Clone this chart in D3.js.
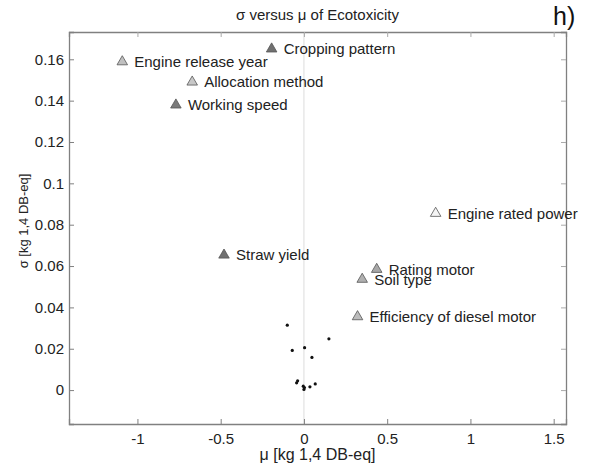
<!DOCTYPE html>
<html><head><meta charset="utf-8">
<script src="https://cdn.jsdelivr.net/npm/d3@7"></script>
<style>body{margin:0;background:#fff}svg{display:block}text{font-family:"Liberation Sans",Arial,sans-serif}</style>
</head><body><svg id="c" width="596" height="472"></svg>
<script>
const labels = ["Cropping pattern","Engine release year","Allocation method","Working speed","Straw yield","Engine rated power","Rating motor","Soil type","Efficiency of diesel motor"];
const labelMu = [-0.194,-1.091,-0.671,-0.769,-0.480,0.791,0.437,0.350,0.322];
const labelSigma = [0.165,0.1588,0.149,0.1379,0.0653,0.0855,0.0584,0.0536,0.0355];
const labelShade = ["#707070","#c0c0c0","#c8c8c8","#7a7a7a","#707070","#f4f4f4","#a8a8a8","#b0b0b0","#bcbcbc"];
const dotMu = [-0.100,-0.070,0.004,0.048,0.150,-0.044,-0.038,-0.004,0.000,0.003,0.036,0.068];
const dotSigma = [0.0314,0.0192,0.0205,0.0158,0.0248,0.0035,0.0045,0.0019,0.0003,0.0012,0.0016,0.0030];
const xTicks = [-1,-0.5,0,0.5,1,1.5];
const yTicks = [0,0.02,0.04,0.06,0.08,0.1,0.12,0.14,0.16];

const svg = d3.select("#c");
const L=69,R=566,T=32,B=424;
const x = d3.scaleLinear().domain([-1.411,1.574]).range([L,R]);
const y = d3.scaleLinear().domain([-0.0164,0.1732]).range([B,T]);
const axisCol="#808080";

// zero line
svg.append("line").attr("x1",x(0)).attr("x2",x(0)).attr("y1",T).attr("y2",B).attr("stroke","#dcdcdc").attr("stroke-width",1);

const fmt = d => d===0?"0":String(d);
const gB = svg.append("g").attr("transform",`translate(0,${B})`).call(d3.axisBottom(x).tickValues(xTicks).tickSize(-5).tickPadding(9).tickFormat(fmt));
const gT = svg.append("g").attr("transform",`translate(0,${T})`).call(d3.axisTop(x).tickValues(xTicks).tickSize(-5).tickFormat(""));
const gL = svg.append("g").attr("transform",`translate(${L},0)`).call(d3.axisLeft(y).tickValues(yTicks).tickSize(-5).tickPadding(5).tickFormat(fmt));
const gR = svg.append("g").attr("transform",`translate(${R},0)`).call(d3.axisRight(y).tickValues(yTicks).tickSize(-5).tickFormat(""));
[gB,gT,gL,gR].forEach(g=>{
  g.select(".domain").attr("stroke",axisCol).attr("stroke-width",1.3);
  g.selectAll(".tick line").attr("stroke",axisCol);
  g.selectAll("text").attr("font-size",15).attr("fill","#222").attr("font-family",'"Liberation Sans",Arial,sans-serif');
});
gT.selectAll(".tick line").attr("stroke","#aaa");
gR.selectAll(".tick line").attr("stroke","#aaa");

// dots
svg.append("g").selectAll("circle").data(dotMu).join("circle")
  .attr("cx",(d)=>x(d)).attr("cy",(d,i)=>y(dotSigma[i])).attr("r",1.6).attr("fill","#111");

// triangles + labels
const tri = d3.symbol().type(d3.symbolTriangle).size(48);
const gp = svg.append("g");
labels.forEach((lab,i)=>{
  gp.append("path").attr("d",tri()).attr("transform",`translate(${x(labelMu[i])},${y(labelSigma[i])})`)
    .attr("fill",labelShade[i]).attr("stroke","#555").attr("stroke-width",0.8);
});
labels.forEach((lab,i)=>{
  gp.append("text").attr("x",x(labelMu[i])+12).attr("y",y(labelSigma[i])).attr("dy","0.36em")
    .attr("font-size",15).attr("fill","#222").text(lab);
});

// titles
svg.append("text").attr("x",(L+R)/2).attr("y",20).attr("text-anchor","middle").attr("font-size",15).attr("fill","#222").text("σ versus μ of Ecotoxicity");
svg.append("text").attr("x",553).attr("y",25).attr("font-size",25).attr("fill","#111").text("h)");
svg.append("text").attr("x",(L+R)/2).attr("y",460).attr("text-anchor","middle").attr("font-size",16).attr("fill","#222").text("μ [kg 1,4 DB-eq]");
svg.append("text").attr("transform",`translate(28,221) rotate(-90)`).attr("text-anchor","middle").attr("font-size",13).attr("fill","#222").text("σ [kg 1,4 DB-eq]");
</script></body></html>
